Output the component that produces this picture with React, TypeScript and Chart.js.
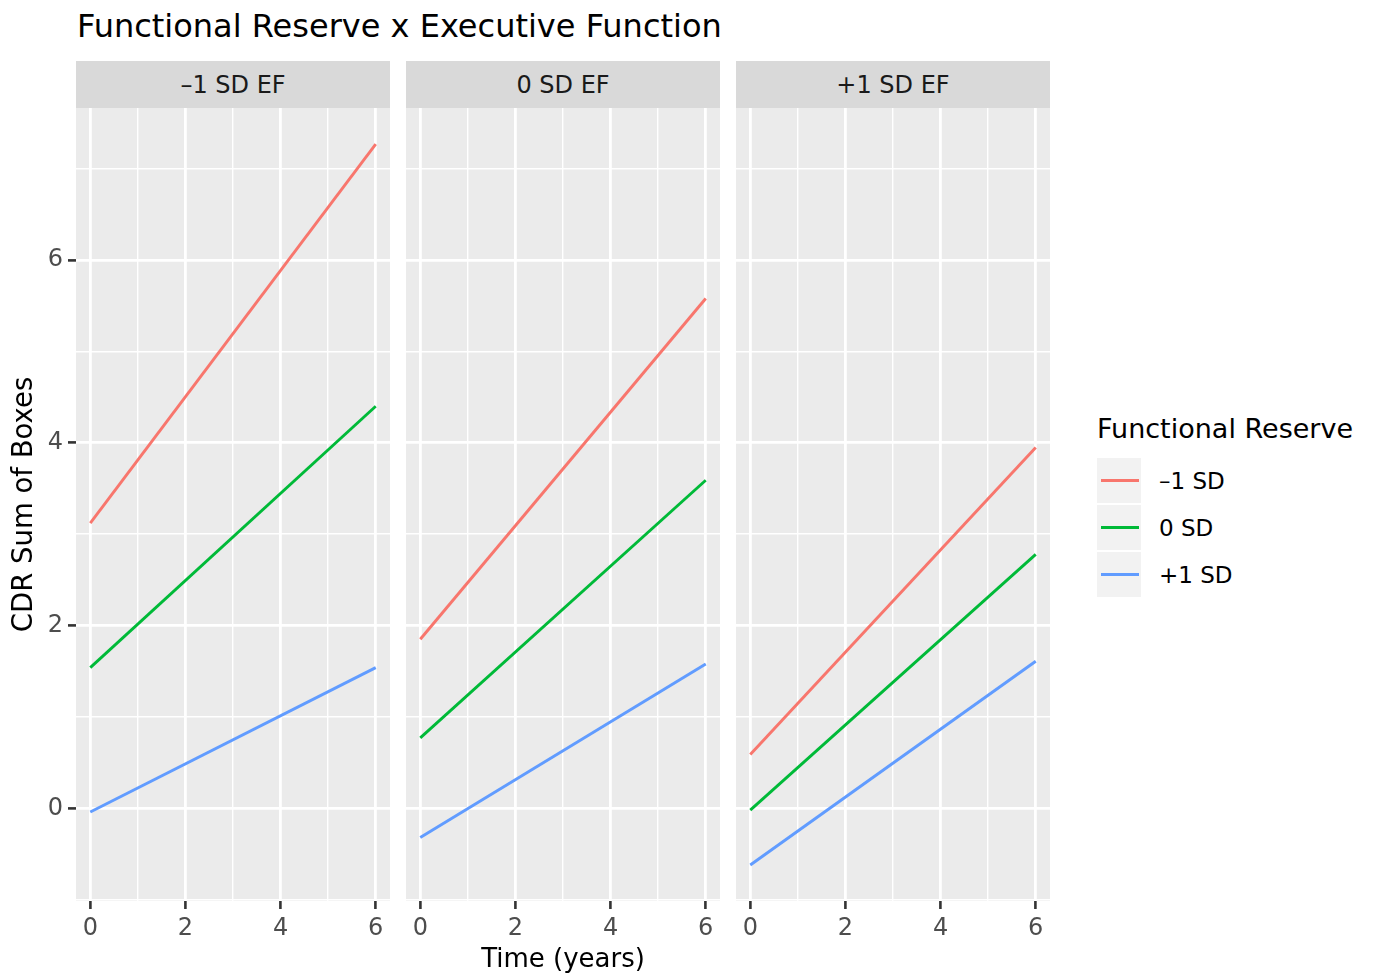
import React, { useEffect, useRef } from "react";
import { Chart, registerables } from "chart.js";

Chart.register(...registerables);

const FONT = "'DejaVu Sans', 'Liberation Sans', sans-serif";

// ---- text ----
const chartTitle = "Functional Reserve x Executive Function";
const panelLabels = ["–1 SD EF", "0 SD EF", "+1 SD EF"];
const legendTitle = "Functional Reserve";
const seriesLabels = ["–1 SD", "0 SD", "+1 SD"];
const seriesColors = ["#F8766D", "#00BA38", "#619CFF"];
const xAxisTitle = "Time (years)";
const yAxisTitle = "CDR Sum of Boxes";

// ---- data ----
const timeYears = [0, 6];
// CDR Sum of Boxes at year 0 and year 6, one pair per EF panel (-1, 0, +1 SD EF)
const reserveMinus1 = [[3.12, 7.27], [1.85, 5.58], [0.59, 3.95]];
const reserveZero = [[1.54, 4.4], [0.77, 3.59], [-0.02, 2.78]];
const reservePlus1 = [[-0.04, 1.54], [-0.32, 1.58], [-0.62, 1.61]];

// ---- ticks ----
const xMajorTicks = [0, 2, 4, 6];
const xMinorTicks = [1, 3, 5];
const yMajorTicks = [0, 2, 4, 6];
const yMinorTicks = [-1, 1, 3, 5, 7];

// ---- layout (pixels) ----
const PANEL_LEFT = [76, 406, 736];
const PANEL_W = 314;
const STRIP_TOP = 61;
const STRIP_H = 47;
const PLOT_TOP = 108;
const PLOT_H = 793;
const CANVAS_H = 871;
const Y_AXIS_W = 76;

const allSeries = [reserveMinus1, reserveZero, reservePlus1];
const allY = allSeries.flat(2);
const yLo = Math.min(...allY);
const yHi = Math.max(...allY);
const yMin = yLo - 0.05 * (yHi - yLo);
const yMax = yHi + 0.05 * (yHi - yLo);
const tLo = Math.min(...timeYears);
const tHi = Math.max(...timeYears);
const xMin = tLo - 0.05 * (tHi - tLo);
const xMax = tHi + 0.05 * (tHi - tLo);

const panelBg = {
  id: "panelBg",
  beforeDraw(chart: any) {
    const { ctx, chartArea } = chart;
    ctx.save();
    ctx.fillStyle = "#EBEBEB";
    ctx.fillRect(chartArea.left, chartArea.top, chartArea.width, chartArea.height);
    ctx.restore();
  },
};

function Panel({ idx }: { idx: number }) {
  const ref = useRef<HTMLCanvasElement>(null);
  const first = idx === 0;
  const canvasLeft = first ? 0 : PANEL_LEFT[idx];
  const canvasW = first ? PANEL_LEFT[0] + PANEL_W : PANEL_W;

  useEffect(() => {
    const datasets = allSeries.map((s, k) => ({
      label: seriesLabels[k],
      data: timeYears.map((t, j) => ({ x: t, y: s[idx][j] })),
      borderColor: seriesColors[k],
      backgroundColor: seriesColors[k],
      borderWidth: 2.9,
      pointRadius: 0,
      pointHoverRadius: 0,
      fill: false,
      tension: 0,
    }));
    const xTicks = [...xMajorTicks, ...xMinorTicks].sort((a, b) => a - b);
    const yTicks = [...yMajorTicks, ...yMinorTicks].sort((a, b) => a - b);
    const chart = new Chart(ref.current as HTMLCanvasElement, {
      type: "line",
      data: { datasets } as any,
      plugins: [panelBg],
      options: {
        animation: false,
        responsive: false,
        maintainAspectRatio: false,
        layout: { padding: 0 },
        plugins: {
          legend: { display: false },
          tooltip: { enabled: false },
          title: { display: false },
        },
        scales: {
          x: {
            type: "linear",
            min: xMin,
            max: xMax,
            afterBuildTicks: (scale: any) => {
              scale.ticks = xTicks.map((v) => ({ value: v }));
            },
            afterFit: (scale: any) => {
              scale.height = CANVAS_H - PLOT_H;
              scale.paddingLeft = 0;
              scale.paddingRight = 0;
              scale.paddingTop = 0;
              scale.paddingBottom = 0;
            },
            border: { display: false },
            grid: {
              color: "#FFFFFF",
              lineWidth: (c: any) => (xMajorTicks.includes(c.tick?.value) ? 2.8 : 1.4),
              drawTicks: true,
              tickLength: 8,
              tickWidth: 2.6,
              tickColor: (c: any) => (xMajorTicks.includes(c.tick?.value) ? "#333333" : "rgba(0,0,0,0)"),
            },
            ticks: {
              color: "#4D4D4D",
              font: { family: FONT, size: 24 },
              padding: 5,
              maxRotation: 0,
              autoSkip: false,
              callback: (v: any) => (xMajorTicks.includes(Number(v)) ? String(v) : ""),
            },
            title: {
              display: idx === 1,
              text: xAxisTitle,
              color: "#000000",
              font: { family: FONT, size: 26 },
              padding: { top: 0, bottom: 3 },
            },
          },
          y: {
            type: "linear",
            min: yMin,
            max: yMax,
            afterBuildTicks: (scale: any) => {
              scale.ticks = yTicks.map((v) => ({ value: v }));
            },
            afterFit: (scale: any) => {
              scale.width = first ? Y_AXIS_W : 0;
              scale.paddingLeft = 0;
              scale.paddingRight = 0;
              scale.paddingTop = 0;
              scale.paddingBottom = 0;
            },
            border: { display: false },
            grid: {
              color: "#FFFFFF",
              lineWidth: (c: any) => (yMajorTicks.includes(c.tick?.value) ? 2.8 : 1.4),
              drawTicks: first,
              tickLength: 8,
              tickWidth: 2.6,
              tickColor: (c: any) => (yMajorTicks.includes(c.tick?.value) ? "#333333" : "rgba(0,0,0,0)"),
            },
            ticks: {
              display: first,
              color: "#4D4D4D",
              font: { family: FONT, size: 24 },
              padding: 5,
              autoSkip: false,
              callback: (v: any) => (yMajorTicks.includes(Number(v)) ? String(v) : ""),
            },
            title: {
              display: first,
              text: yAxisTitle,
              color: "#000000",
              font: { family: FONT, size: 27.5 },
              padding: { top: 8, bottom: 0 },
            },
          },
        },
      } as any,
    });
    return () => chart.destroy();
  }, [idx]);

  return (
    <canvas
      ref={ref}
      width={canvasW}
      height={CANVAS_H}
      style={{ position: "absolute", left: canvasLeft, top: PLOT_TOP, width: canvasW, height: CANVAS_H }}
    />
  );
}

export default function App() {
  return (
    <div
      style={{
        position: "fixed",
        left: 0,
        top: 0,
        width: 1376,
        height: 979,
        background: "#FFFFFF",
        overflow: "hidden",
        fontFamily: FONT,
      }}
    >
      <div
        style={{
          position: "absolute",
          left: 77,
          top: 10,
          fontSize: 32,
          lineHeight: "32px",
          color: "#000000",
          whiteSpace: "nowrap",
        }}
      >
        {chartTitle}
      </div>

      {panelLabels.map((label, i) => (
        <div
          key={label}
          style={{
            position: "absolute",
            left: PANEL_LEFT[i],
            top: STRIP_TOP,
            width: PANEL_W,
            height: STRIP_H,
            background: "#D9D9D9",
            color: "#1A1A1A",
            fontSize: 24,
            display: "flex",
            alignItems: "center",
            justifyContent: "center",
            whiteSpace: "nowrap",
          }}
        >
          {label}
        </div>
      ))}

      {[0, 1, 2].map((i) => (
        <Panel key={i} idx={i} />
      ))}

      <div
        style={{
          position: "absolute",
          left: 1097,
          top: 415,
          fontSize: 27,
          lineHeight: "27px",
          color: "#000000",
          whiteSpace: "nowrap",
        }}
      >
        {legendTitle}
      </div>
      {seriesLabels.map((label, k) => (
        <div key={label}>
          <div
            style={{
              position: "absolute",
              left: 1097,
              top: 458 + k * 47,
              width: 44,
              height: 45,
              background: "#F2F2F2",
            }}
          >
            <div
              style={{
                position: "absolute",
                left: 4,
                top: 21,
                width: 38,
                height: 2.8,
                background: seriesColors[k],
              }}
            />
          </div>
          <div
            style={{
              position: "absolute",
              left: 1159,
              top: 458 + k * 47,
              height: 45,
              display: "flex",
              alignItems: "center",
              fontSize: 23,
              color: "#000000",
              whiteSpace: "nowrap",
            }}
          >
            {label}
          </div>
        </div>
      ))}
    </div>
  );
}
